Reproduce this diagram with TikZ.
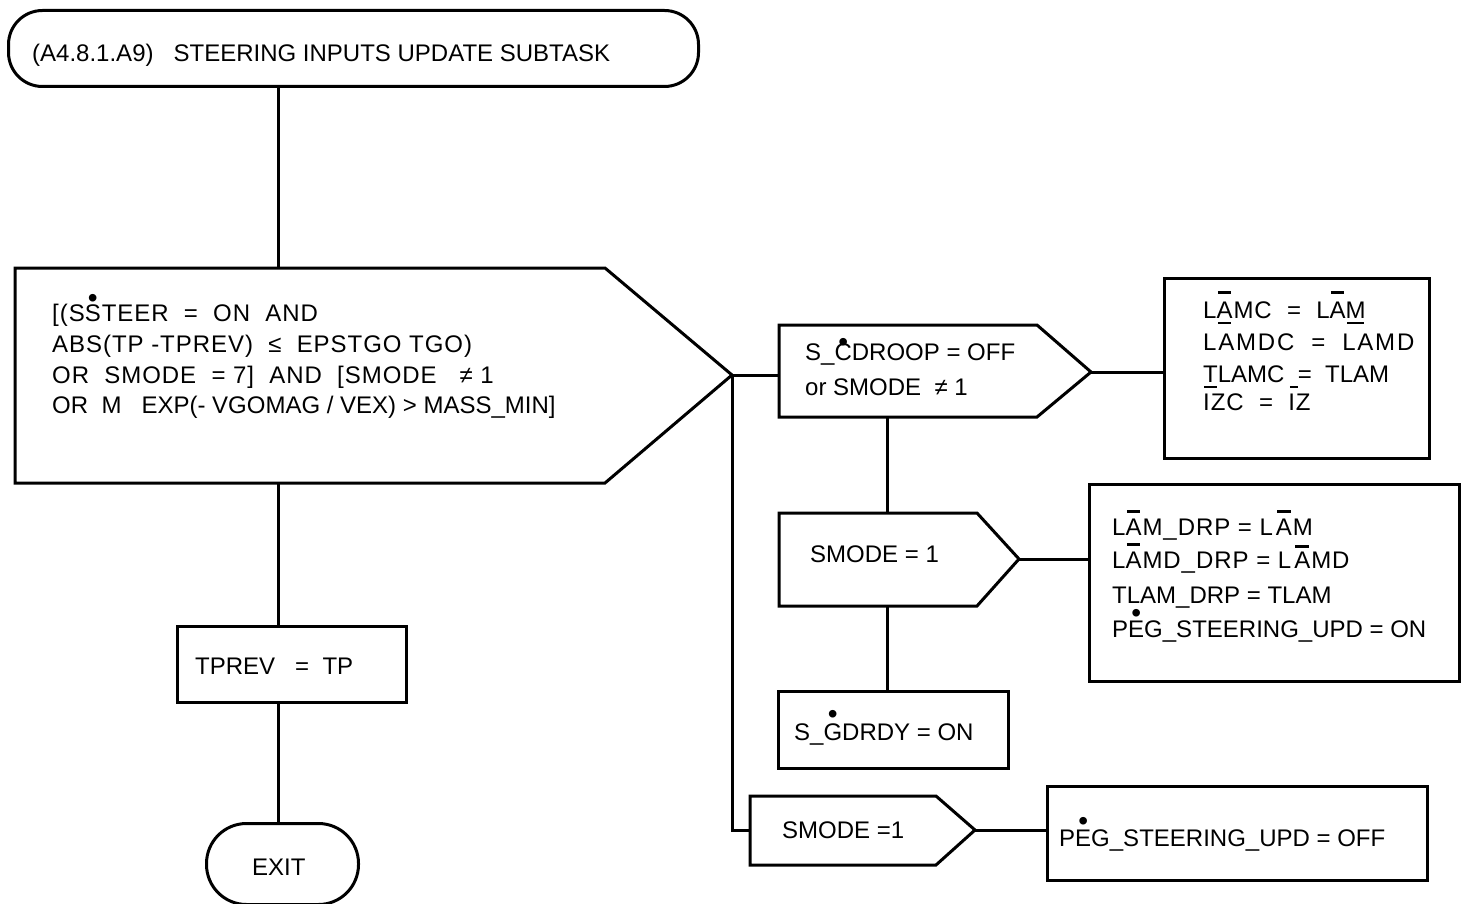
\documentclass[tikz,border=0pt]{standalone}
\usepackage{fontspec}
\setmainfont{Liberation Sans}
\newfontfamily\lsp{Liberation Sans}[LetterSpace=4]
\newfontfamily\lspw{Liberation Sans}[LetterSpace=7.5]
% dot above a letter: #1 raise, #2 letter
\newcommand\dt[2]{\leavevmode\setbox0\hbox{#2}\rlap{\hbox to\wd0{\hss\raisebox{#1}{\fontsize{28}{28}\selectfont •}\hss}}#2}
% bar over/under a letter: #1 raise of bar bottom, #2 letter
\newcommand\mk[2]{\leavevmode\setbox0\hbox{#2}\rlap{\hbox to\wd0{\hss\rule[#1]{0.85\wd0}{2.8pt}\hss}}#2}
\tikzset{
  ln/.style={line width=3pt, line join=miter},
  box/.style={draw, ln, rectangle, inner sep=0pt, anchor=north west},
  term/.style={box, rounded corners=34pt},
  exitterm/.style={box, rounded corners=40pt},
  txt/.style={anchor=base west, inner sep=0pt, font=\fontsize{24}{28}\selectfont},
  stxt/.style={anchor=base west, inner sep=0pt, font=\lsp\fontsize{24}{28}\selectfont},
  wtxt/.style={anchor=base west, inner sep=0pt, font=\lspw\fontsize{24}{28}\selectfont},
}
\begin{document}
\begin{tikzpicture}[x=1pt,y=-1pt]
\useasboundingbox (0,0) rectangle (1467,904);
% ---- boxes
\node[term, minimum width=690pt, minimum height=76pt] (start) at (7,9) {};
\node[box, minimum width=229pt, minimum height=76pt] (tprev) at (176,625) {};
\node[exitterm, minimum width=152pt, minimum height=81pt] (exit) at (205,822) {};
\node[box, minimum width=265pt, minimum height=180pt] (lamc) at (1163,277) {};
\node[box, minimum width=370pt, minimum height=197pt] (drp) at (1088,483) {};
\node[box, minimum width=230pt, minimum height=77pt] (gdrdy) at (777,690) {};
\node[box, minimum width=380pt, minimum height=94pt] (pegoff) at (1046,785) {};
% ---- decision shapes
\draw[ln] (15,268) -- (605,268) -- (732,375) coordinate (d1tip) -- (605,483) -- (15,483) -- cycle;
\coordinate (d1top) at (278,268);
\coordinate (d1bot) at (278,483);
\draw[ln] (779,325) -- (1037,325) -- (1091,372) coordinate (c1tip) -- (1037,417) -- (779,417) -- cycle;
\coordinate (c1in) at (779,375);
\coordinate (c1bot) at (887,417);
\draw[ln] (779,513) -- (977,513) -- (1019,559) coordinate (c2tip) -- (977,606) -- (779,606) -- cycle;
\coordinate (c2top) at (887,513);
\coordinate (c2bot) at (887,606);
\draw[ln] (750,796) -- (936,796) -- (975,830) coordinate (c3tip) -- (936,865) -- (750,865) -- cycle;
\coordinate (c3in) at (750,830);
% ---- connectors
\draw[ln] (start.south -| d1top) -- (d1top);
\draw[ln] (d1bot) -- (d1bot |- tprev.north);
\draw[ln] (d1bot |- tprev.south) -- (d1bot |- exit.north);
\draw[ln] (d1tip) -- (c1in);
\draw[ln] (d1tip) -- (d1tip |- c3in) -- (c3in);
\draw[ln] (c1tip) -- (c1tip -| lamc.west);
\draw[ln] (c1bot) -- (c2top);
\draw[ln] (c2tip) -- (c2tip -| drp.west);
\draw[ln] (c2bot) -- (c2bot |- gdrdy.north);
\draw[ln] (c3tip) -- (c3tip -| pegoff.west);
% ---- texts
\node[txt] (title) at (32,62) {(A4.8.1.A9)\ \ \ STEERING INPUTS UPDATE SUBTASK};
\node[stxt] (q1) at (52,321) {[(S\dt{14pt}{S}TEER~~=~~ON~~AND};
\node[stxt] (q2) at (52,352) {ABS(TP -TPREV)~~≤~~EPSTGO TGO)};
\node[stxt] (q3) at (52,383) {OR~~SMODE~~=~7]~~AND~~[SMODE~~~≠~1};
\node[txt] (q4) at (52,413) {OR~~M~~~EXP(- VGOMAG / VEX) > MASS\_MIN]};
\node[txt] (c1a) at (805,360) {S\_\dt{8.5pt}{C}DROOP = OFF};
\node[txt] (c1b) at (805,395) {or SMODE~~≠ 1};
\node[stxt] (l1) at (1203,318) {L\mk{24pt}{\mk{-6.3pt}{A}}MC~~=~~L\mk{24pt}{A}\mk{-6.3pt}{M}};
\node[wtxt] (l2) at (1203,350) {LAMDC~~=~~LAMD};
\node[txt] (l3) at (1203,382) {\mk{-6.3pt}{T}LAMC~~\llap{\rule[-6.3pt]{8pt}{2.8pt}}=~~TLAM};
\node[stxt] (l4) at (1203,410) {IZC~~=~~IZ};
\node[txt] (c2a) at (810,562) {SMODE = 1};
\node[stxt] (r1) at (1112,535) {L\mk{22pt}{A}M\_DRP = L\kern3pt\mk{22pt}{A}M};
\node[stxt] (r2) at (1112,568) {L\mk{22pt}{A}MD\_DRP = L\kern3pt\mk{20pt}{A}MD};
\node[txt] (r3) at (1112,603) {TLAM\_DRP = TLAM};
\node[txt] (r4) at (1112,637) {P\dt{15pt}{E}G\_STEERING\_UPD = ON};
\node[txt] (g1) at (794,740) {S\_\dt{17pt}{G}DRDY = ON};
\node[txt] (c3a) at (782,838) {SMODE =1};
\node[txt] (p1) at (1059,846) {P\dt{16pt}{E}G\_STEERING\_UPD = OFF};
\node[txt] (tp) at (195,674) {TPREV~~~=~~TP};
\node[txt] (ex) at (252,875) {EXIT};
\end{tikzpicture}
\end{document}
